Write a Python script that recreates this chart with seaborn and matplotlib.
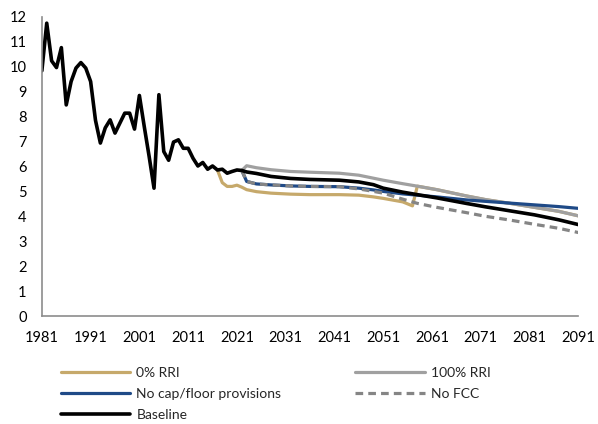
import matplotlib
matplotlib.use('Agg')
import matplotlib.pyplot as plt
import seaborn as sns

# Historical series (annual), 1981-2022
hist_years = list(range(1981, 2023))
hist_vals = [9.84, 11.75, 10.24, 9.97, 10.77, 8.47, 9.41, 9.95, 10.17, 9.95,
             9.41, 7.85, 6.94, 7.55, 7.87, 7.34, 7.74, 8.14, 8.14, 7.50,
             8.85, 7.60, 6.40, 5.13, 8.88, 6.60, 6.25, 6.98, 7.07, 6.73,
             6.73, 6.33, 6.02, 6.16, 5.89, 6.02, 5.86, 5.89, 5.73, 5.80,
             5.86, 5.84]

# Projection years
proj_years = [2022, 2023, 2025, 2028, 2032, 2036, 2042, 2046, 2049, 2051,
              2055, 2058, 2062, 2068, 2072, 2077, 2082, 2087, 2091]
baseline_proj = [5.84, 5.78, 5.72, 5.60, 5.52, 5.48, 5.45, 5.38, 5.27, 5.13,
                 4.97, 4.87, 4.74, 4.52, 4.38, 4.22, 4.06, 3.86, 3.67]
rri100 = [5.84, 6.03, 5.95, 5.87, 5.80, 5.77, 5.73, 5.65, 5.53, 5.45,
          5.31, 5.21, 5.07, 4.82, 4.67, 4.52, 4.36, 4.20, 4.02]
no_cap = [5.84, 5.40, 5.30, 5.26, 5.22, 5.20, 5.19, 5.13, 5.06, 5.00,
          4.90, 4.85, 4.78, 4.66, 4.60, 4.53, 4.46, 4.39, 4.32]
no_fcc = [5.84, 5.40, 5.30, 5.26, 5.22, 5.20, 5.19, 5.10, 5.00, 4.93,
          4.69, 4.52, 4.36, 4.15, 4.00, 3.85, 3.68, 3.52, 3.35]

rri0_years = [2017, 2018, 2019, 2020, 2021, 2022, 2023, 2025, 2028, 2032,
              2036, 2042, 2046, 2049, 2051, 2055, 2057, 2058, 2062, 2068,
              2072, 2077, 2082, 2087, 2091]
rri0 = [5.86, 5.35, 5.20, 5.20, 5.25, 5.17, 5.07, 4.99, 4.93, 4.89,
        4.87, 4.87, 4.85, 4.78, 4.72, 4.58, 4.42, 5.21, 5.07, 4.82,
        4.67, 4.52, 4.36, 4.20, 4.02]

baseline_years = hist_years + proj_years[1:]
baseline = hist_vals + baseline_proj[1:]

sns.set_style('white')
plt.rcParams['font.family'] = ['Lato', 'DejaVu Sans']

fig, ax = plt.subplots(figsize=(5.98, 4.24), dpi=100)
fig.subplots_adjust(left=0.070, right=0.967, top=0.96, bottom=0.2547)

lw = 2.3
sns.lineplot(x=rri0_years, y=rri0, color='#C6A96B', linewidth=lw, ax=ax)
sns.lineplot(x=proj_years, y=rri100, color='#A0A0A0', linewidth=lw, ax=ax)
sns.lineplot(x=proj_years, y=no_cap, color='#1F4A87', linewidth=lw, ax=ax)
sns.lineplot(x=proj_years, y=no_fcc, color='#858585', linewidth=lw, ax=ax)
sns.lineplot(x=baseline_years, y=baseline, color='black', linewidth=lw + 0.3, ax=ax)

lines = ax.get_lines()
lines[3].set_dashes((2.4, 1.6))

ax.set_xlim(1981, 2091)
ax.set_ylim(0, 12)
ax.set_xticks(range(1981, 2092, 10))
ax.set_yticks(range(0, 13))

for s in ['top', 'right']:
    ax.spines[s].set_visible(False)
for s in ['left', 'bottom']:
    ax.spines[s].set_color('#8c8c8c')
    ax.spines[s].set_linewidth(1.2)
ax.tick_params(axis='both', direction='out', length=5, width=1.2,
               color='#8c8c8c', labelsize=10.5, labelcolor='black')
ax.tick_params(axis='x', pad=6)
ax.tick_params(axis='y', pad=6)

labels = ['0% RRI', '100% RRI', 'No cap/floor provisions', 'No FCC', 'Baseline']
order = [0, 2, 4, 1, 3]
fig.legend([lines[i] for i in order], [labels[i] for i in order],
           loc='upper left', bbox_to_anchor=(0.09, 0.15), ncol=2,
           frameon=False, borderpad=0, handlelength=5.0, handletextpad=0.45,
           columnspacing=5.3, labelspacing=0.62, fontsize=10)

plt.savefig('out.png', dpi=100)
plt.close()
